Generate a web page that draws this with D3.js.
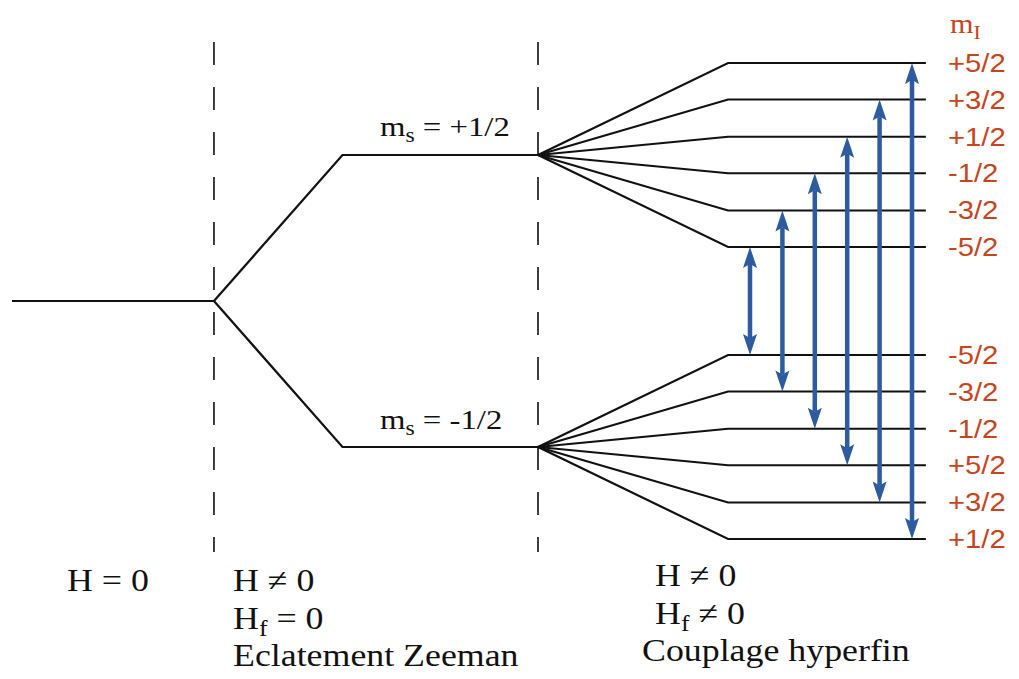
<!DOCTYPE html>
<html>
<head>
<meta charset="utf-8">
<script src="https://cdn.jsdelivr.net/npm/d3@7"></script>
<style>
body { margin: 0; background: #fff; }
</style>
</head>
<body>
<script>
// energy levels, arbitrary units (ground = 0)
var groundE = 0;
var zeemanE = [1, -1];
var zeemanLabels = ["m|s| = +1/2", "m|s| = -1/2"];
var upperE = [1.63, 1.38, 1.125, 0.875, 0.62, 0.37];
var upperLabels = ["+5/2", "+3/2", "+1/2", "-1/2", "-3/2", "-5/2"];
var lowerE = [-0.37, -0.62, -0.875, -1.125, -1.38, -1.63];
var lowerLabels = ["-5/2", "-3/2", "-1/2", "+5/2", "+3/2", "+1/2"];
// allowed transitions, upper level index -> lower level index
var transFrom = [5, 4, 3, 2, 1, 0];
var transTo = [0, 1, 2, 3, 4, 5];
// texts under the three regions
var regionTexts = [
    ["H = 0"],
    ["H \u2260 0", "H|f| = 0", "Eclatement Zeeman"],
    ["H \u2260 0", "H|f| \u2260 0", "Couplage hyperfin"]
];

var width = 1019, height = 679;
var black = "#111", red = "#c8441c", blue = "#2e5b9f";
var serif = "'Liberation Serif','Times New Roman',serif";
var sans = "'Liberation Sans',Arial,sans-serif";

var svg = d3.select("body").append("svg")
    .attr("width", width)
    .attr("height", height);

// x in diagram units, y in energy units
var xScale = d3.scaleLinear().domain([0, 10]).range([12, 930]);
var yScale = d3.scaleLinear().domain([-1, 1]).range([447, 155]);

var xSplit1 = 2.2, xZee = 3.6, xSplit2 = 5.73, xHyp = 7.8, xEnd = 9.955;

var line = d3.line()
    .x(d => xScale(d[0]))
    .y(d => yScale(d[1]));

// dashed separators
svg.selectAll(".sep")
    .data([xSplit1, xSplit2])
    .enter()
    .append("line")
    .attr("class", "sep")
    .attr("x1", d => xScale(d))
    .attr("x2", d => xScale(d))
    .attr("y1", 42)
    .attr("y2", 552)
    .attr("stroke", black)
    .attr("stroke-width", 1.6)
    .attr("stroke-dasharray", "23,22");

// ground level + zeeman split
svg.append("path")
    .attr("d", line([[0, groundE], [xSplit1, groundE]]))
    .attr("stroke", black).attr("stroke-width", 2.2).attr("fill", "none");

svg.selectAll(".zee")
    .data(zeemanE)
    .enter()
    .append("path")
    .attr("class", "zee")
    .attr("d", d => line([[xSplit1, groundE], [xZee, d], [xSplit2, d]]))
    .attr("stroke", black).attr("stroke-width", 2.2).attr("fill", "none");

// hyperfine fans
function fan (cls, parentE, levels)
{
    svg.selectAll("." + cls)
        .data(levels)
        .enter()
        .append("path")
        .attr("class", cls)
        .attr("d", d => line([[xSplit2, parentE], [xHyp, d], [xEnd, d]]))
        .attr("stroke", black).attr("stroke-width", 2.2)
        .attr("fill", "none").attr("stroke-linejoin", "miter");
}
fan("up", zeemanE[0], upperE);
fan("lo", zeemanE[1], lowerE);

// transitions (double arrows)
var xArrow = d3.scalePoint().domain(d3.range(transFrom.length)).range([750, 912]);
var headL = 21, headW = 7;

var arrows = svg.append("g").attr("id", "arrows");
transFrom.forEach(function (f, i)
{
    var x = xArrow(i);
    var yTop = yScale(upperE[f]);
    var yBot = yScale(lowerE[transTo[i]]);
    arrows.append("line")
        .attr("x1", x).attr("x2", x)
        .attr("y1", yTop + headL - 4).attr("y2", yBot - headL + 4)
        .attr("stroke", blue).attr("stroke-width", 4.5);
    arrows.append("path")
        .attr("d", "M" + x + "," + yTop + "L" + (x - headW) + "," + (yTop + headL) +
              "L" + x + "," + (yTop + headL - 4) + "L" + (x + headW) + "," + (yTop + headL) + "Z")
        .attr("fill", blue);
    arrows.append("path")
        .attr("d", "M" + x + "," + yBot + "L" + (x - headW) + "," + (yBot - headL) +
              "L" + x + "," + (yBot - headL + 4) + "L" + (x + headW) + "," + (yBot - headL) + "Z")
        .attr("fill", blue);
});

// text helper: "A|sub|B" gives a subscript
function label (g, str, size)
{
    var t = g.append("text").attr("font-size", size);
    var parts = str.split("|");
    parts.forEach(function (p, i)
    {
        if (i % 2 == 1)
        {
            t.append("tspan").text(p)
                .attr("font-size", size * 0.72)
                .attr("dy", size * 0.22);
        }
        else
        {
            var ts = t.append("tspan").text(p);
            if (i > 0) ts.attr("dy", -size * 0.22);
        }
    });
    return t;
}

// mI labels
var mi = svg.append("g")
    .attr("transform", "translate(950,33) scale(1.12,1)")
    .attr("font-family", serif).attr("fill", red);
label(mi, "m|I|", 27);

function levelLabels (levels, texts)
{
    svg.selectAll(null)
        .data(levels)
        .enter()
        .append("text")
        .attr("transform", (d) => "translate(948," + (yScale(d) + 9) + ") scale(1.17,1)")
        .attr("font-family", sans)
        .attr("font-size", 25)
        .attr("fill", red)
        .text((d, i) => texts[i]);
}
levelLabels(upperE, upperLabels);
levelLabels(lowerE, lowerLabels);

// ms labels
var msPos = [[380, 136], [380, 429]];
zeemanLabels.forEach(function (s, i)
{
    var g = svg.append("g")
        .attr("transform", "translate(" + msPos[i][0] + "," + msPos[i][1] + ") scale(1.17,1)")
        .attr("font-family", serif).attr("fill", black);
    label(g, s, 28);
});

// region descriptions
var regionPos = [[67, 591, 0], [233, 591, 0], [655, 586, 0]];
var rowGap = 37.5;
regionTexts.forEach(function (rows, r)
{
    rows.forEach(function (s, j)
    {
        var dx = (r == 2 && j == 2) ? -13 : 0;
        var g = svg.append("g")
            .attr("transform", "translate(" + (regionPos[r][0] + dx) + "," +
                  (regionPos[r][1] + j * rowGap) + ") scale(1.12,1)")
            .attr("font-family", serif).attr("fill", black);
        label(g, s, 32);
    });
});
</script>
</body>
</html>
